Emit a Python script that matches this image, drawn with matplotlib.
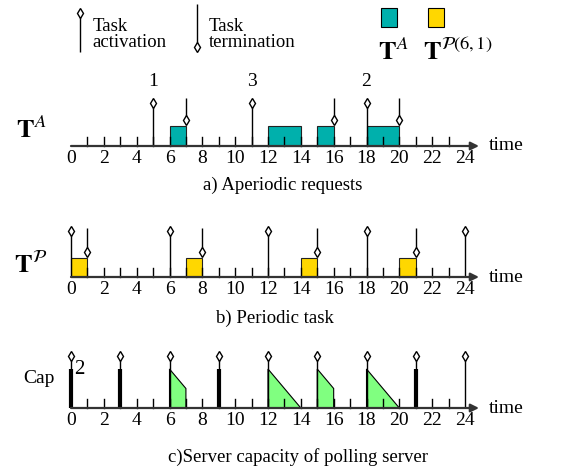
import matplotlib
matplotlib.use("Agg")
import matplotlib.pyplot as plt
from matplotlib.patches import Rectangle, Polygon

plt.rcParams['font.family'] = ['Liberation Serif', 'DejaVu Serif']
plt.rcParams['mathtext.fontset'] = 'stix'

# ---------------- data ----------------
tick_times = list(range(0, 25))
tick_labels = [0, 2, 4, 6, 8, 10, 12, 14, 16, 18, 20, 22, 24]

aper_starts = [6, 12, 15, 18]
aper_ends = [7, 14, 16, 20]
aper_arrivals = [5, 11, 18]
aper_arrival_labels = ['1', '3', '2']
aper_terminations = [7, 16, 20]

per_starts = [0, 7, 14, 20]
per_ends = [1, 8, 15, 21]
per_activations = [0, 6, 12, 18, 24]
per_terminations = [1, 8, 15, 21]

server_activations = [0, 3, 6, 9, 12, 15, 18, 21, 24]
server_full_idle = [0, 3, 9, 21]
cap_full = 2
cap_use_start = [6, 12, 15, 18]
cap_use_end = [7, 14, 16, 20]
cap_end_values = [1, 0, 1, 0]

# ---------------- layout ----------------
W, H = 585, 469
U = 19.5           # px per vertical unit
PX = 16.417        # px per time unit
X0 = 71            # px of time 0
YA = 146           # px baseline row A
rowA = 0.0
rowP = -(277 - YA) / U
rowC = -(408 - YA) / U

fig = plt.figure(figsize=(W / 100, H / 100), dpi=100)
ax = fig.add_axes([0, 0, 1, 1])
ax.set_xlim(-X0 / PX, (W - X0) / PX)
ax.set_ylim(-(H - YA) / U, YA / U)
ax.axis('off')

TEAL = '#00b0ac'
YELLOW = '#ffd700'
GREEN = '#80ff80'
FS = 14
CFS = 13.5
MS = 5.0


def activation(x, y0, top):
    ax.plot([x, x], [y0, top - 0.15], color='black', lw=1.0, solid_capstyle='butt')
    ax.plot([x], [top - 0.17], marker='d', ms=MS, mfc='white', mec='black', mew=1.0)


def termination(x, top, tip):
    ax.plot([x, x], [top, tip + 0.15], color='black', lw=1.0, solid_capstyle='butt')
    ax.plot([x], [tip + 0.17], marker='d', ms=MS, mfc='white', mec='black', mew=1.0)


def time_axis(y0):
    ax.annotate('', xy=(24.85, y0), xytext=(0, y0),
                arrowprops=dict(arrowstyle='-|>', color='#333333', lw=1.6,
                                mutation_scale=12, shrinkA=0, shrinkB=0))
    for t in tick_times[1:-1]:
        ax.plot([t, t], [y0, y0 + 0.48], color='black', lw=1.0)
    for t in tick_labels:
        ax.text(t, y0 - 0.62, str(t), ha='center', va='center', fontsize=FS)
    ax.text(25.45, y0 + 0.0, 'time', ha='left', va='center', fontsize=FS)


# ---------------- legend ----------------
activation(0.55, 4.82, 6.97)
ax.text(1.3, 5.72, 'Task\nactivation', ha='left', va='center', fontsize=13.5, linespacing=0.95)
termination(7.67, 7.28, 4.92)
ax.text(8.4, 5.72, 'Task\ntermination', ha='left', va='center', fontsize=13.5, linespacing=0.95)
ax.add_patch(Rectangle((18.88, 6.1), 0.98, 0.98, facecolor=TEAL, edgecolor='black', lw=0.8))
ax.add_patch(Rectangle((21.75, 6.1), 0.95, 0.98, facecolor=YELLOW, edgecolor='black', lw=0.8))
ax.text(19.6, 4.85, r'$\mathbf{T}^{A}$', ha='center', va='center', fontsize=19)
ax.text(21.45, 4.85, r'$\mathbf{T}^{\mathcal{P}(6,1)}$', ha='left', va='center', fontsize=19)

# ---------------- row A: aperiodic ----------------
for s, e in zip(aper_starts, aper_ends):
    ax.add_patch(Rectangle((s, rowA), e - s, 1.0, facecolor=TEAL, edgecolor='#222222', lw=0.8))
time_axis(rowA)
for t, lab in zip(aper_arrivals, aper_arrival_labels):
    activation(t, rowA, rowA + 2.36)
    ax.text(t, rowA + 3.3, lab, ha='center', va='center', fontsize=FS)
for t in aper_terminations:
    termination(t, rowA + 2.46, rowA + 1.18)
ax.text(-2.45, rowA + 0.85, r'$\mathbf{T}^{A}$', ha='center', va='center', fontsize=19)
ax.text(12.9, rowA - 2.0, 'a) Aperiodic requests', ha='center', va='center', fontsize=CFS)

# ---------------- row P: periodic ----------------
for s, e in zip(per_starts, per_ends):
    ax.add_patch(Rectangle((s, rowP), e - s, 1.0, facecolor=YELLOW, edgecolor='#222222', lw=0.8))
time_axis(rowP)
for t in per_activations:
    activation(t, rowP, rowP + 2.51)
for t in per_terminations:
    termination(t, rowP + 2.51, rowP + 1.13)
ax.text(-2.45, rowP + 0.62, r'$\mathbf{T}^{\mathcal{P}}$', ha='center', va='center', fontsize=19)
ax.text(12.4, rowP - 2.1, 'b) Periodic task', ha='center', va='center', fontsize=CFS)

# ---------------- row C: server capacity ----------------
for s, e, v in zip(cap_use_start, cap_use_end, cap_end_values):
    ax.add_patch(Polygon([(s, rowC), (s, rowC + cap_full), (e, rowC + v), (e, rowC)],
                         closed=True, facecolor=GREEN, edgecolor='black', lw=0.8))
time_axis(rowC)
for t in server_activations:
    activation(t, rowC, rowC + 2.82)
for t in server_full_idle:
    ax.plot([t, t], [rowC, rowC + cap_full], color='black', lw=3.0, solid_capstyle='butt')
ax.text(0.5, rowC + 1.95, str(cap_full), ha='center', va='center', fontsize=15)
ax.text(-1.95, rowC + 1.5, 'Cap', ha='center', va='center', fontsize=FS)
ax.text(13.8, rowC - 2.5, 'c)Server capacity of polling server', ha='center', va='center', fontsize=CFS)

fig.savefig('out.png', dpi=100)
